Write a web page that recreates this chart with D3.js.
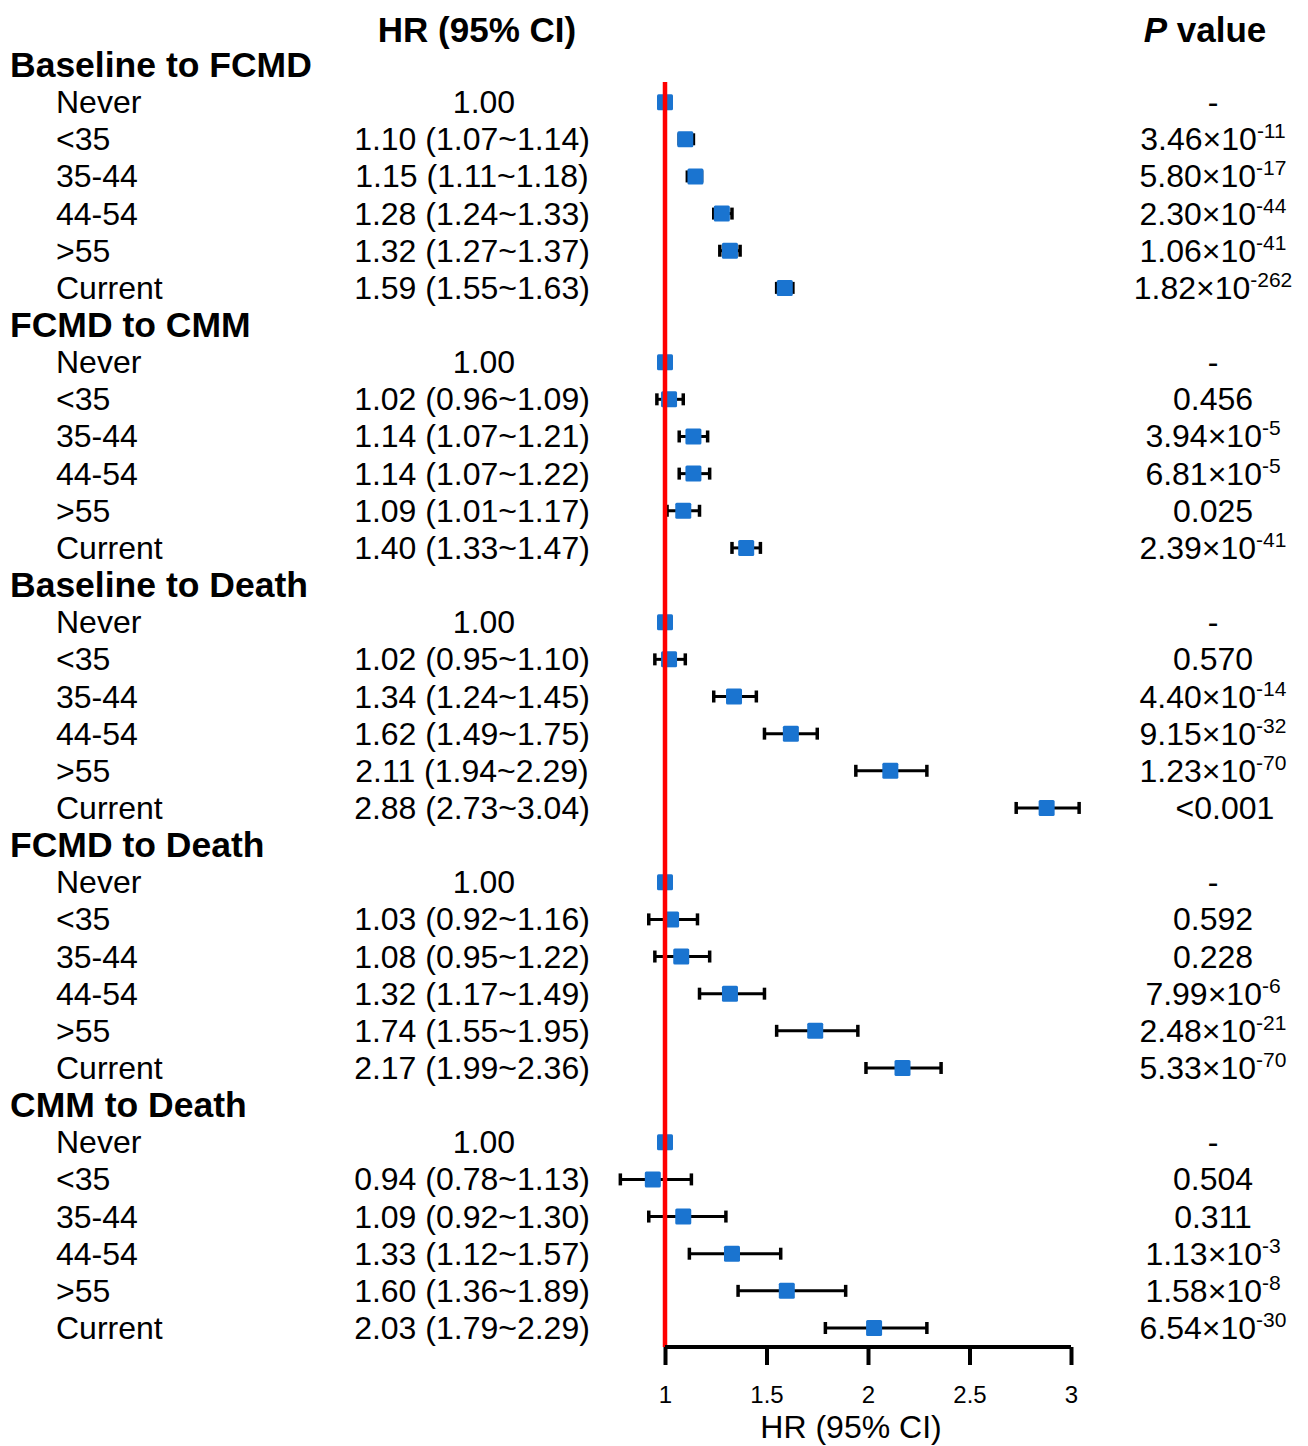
<!DOCTYPE html>
<html>
<head>
<meta charset="utf-8">
<script src="https://cdn.jsdelivr.net/npm/d3@7"></script>
<style>
  body { margin: 0; background: #fff; }
  text { font-family: "Liberation Sans", Arial, sans-serif; fill: #000; }
</style>
</head>
<body>
<div id="chart"></div>
<script>
// data
var groups = ["Baseline to FCMD", "FCMD to CMM", "Baseline to Death", "FCMD to Death", "CMM to Death"];
var categories = ["Never", "<35", "35-44", "44-54", ">55", "Current"];

var hr = [
  [1.00, 1.10, 1.15, 1.28, 1.32, 1.59],
  [1.00, 1.02, 1.14, 1.14, 1.09, 1.40],
  [1.00, 1.02, 1.34, 1.62, 2.11, 2.88],
  [1.00, 1.03, 1.08, 1.32, 1.74, 2.17],
  [1.00, 0.94, 1.09, 1.33, 1.60, 2.03]
];
var lower = [
  [null, 1.07, 1.11, 1.24, 1.27, 1.55],
  [null, 0.96, 1.07, 1.07, 1.01, 1.33],
  [null, 0.95, 1.24, 1.49, 1.94, 2.73],
  [null, 0.92, 0.95, 1.17, 1.55, 1.99],
  [null, 0.78, 0.92, 1.12, 1.36, 1.79]
];
var upper = [
  [null, 1.14, 1.18, 1.33, 1.37, 1.63],
  [null, 1.09, 1.21, 1.22, 1.17, 1.47],
  [null, 1.10, 1.45, 1.75, 2.29, 3.04],
  [null, 1.16, 1.22, 1.49, 1.95, 2.36],
  [null, 1.13, 1.30, 1.57, 1.89, 2.29]
];
var pvals = [
  ["-", "3.46×10^-11", "5.80×10^-17", "2.30×10^-44", "1.06×10^-41", "1.82×10^-262"],
  ["-", "0.456", "3.94×10^-5", "6.81×10^-5", "0.025", "2.39×10^-41"],
  ["-", "0.570", "4.40×10^-14", "9.15×10^-32", "1.23×10^-70", "<0.001"],
  ["-", "0.592", "0.228", "7.99×10^-6", "2.48×10^-21", "5.33×10^-70"],
  ["-", "0.504", "0.311", "1.13×10^-3", "1.58×10^-8", "6.54×10^-30"]
];
var xTicks = [1, 1.5, 2, 2.5, 3];

var width = 1308, height = 1446;
var blue = "#1a74d0";

// flatten into rows: a header row then one row per category
var rows = [];
groups.forEach(function (g, gi) {
  rows.push({ type: "group", label: g });
  categories.forEach(function (c, ci) {
    rows.push({
      type: "item", label: c,
      hr: hr[gi][ci], lo: lower[gi][ci], hi: upper[gi][ci], p: pvals[gi][ci]
    });
  });
});

var svg = d3.select("#chart").append("svg")
  .attr("width", width)
  .attr("height", height);

// scales
var x = d3.scaleLinear().domain([1, 3]).range([665, 1071]);
var y = d3.scaleLinear().domain([0, rows.length - 1]).range([65, 1328]);
var axisY = 1347;

// column headers
svg.append("text")
  .attr("x", 477).attr("y", 42)
  .attr("text-anchor", "middle")
  .style("font-size", "35px").style("font-weight", "bold")
  .text("HR (95% CI)");

var ph = svg.append("text")
  .attr("x", 1205).attr("y", 42)
  .attr("text-anchor", "middle")
  .style("font-size", "35px").style("font-weight", "bold");
ph.append("tspan").style("font-style", "italic").text("P");
ph.append("tspan").text(" value");

// row labels
var rowG = svg.selectAll("g.row")
  .data(rows)
  .enter().append("g")
  .attr("class", "row")
  .attr("transform", function (d, i) { return "translate(0," + y(i) + ")"; });

rowG.append("text")
  .attr("x", function (d) { return d.type === "group" ? 10 : 56; })
  .attr("y", function (d) { return d.type === "group" ? 12 : 11; })
  .style("font-size", function (d) { return d.type === "group" ? "35.5px" : "32px"; })
  .style("font-weight", function (d) { return d.type === "group" ? "bold" : "normal"; })
  .text(function (d) { return d.label; });

var items = rowG.filter(function (d) { return d.type === "item"; });

// HR (95% CI) text
items.append("text")
  .attr("x", function (d) { return d.lo == null ? 484 : 472; })
  .attr("y", 11)
  .attr("text-anchor", "middle")
  .style("font-size", "32px")
  .text(function (d) {
    if (d.lo == null) return d.hr.toFixed(2);
    return d.hr.toFixed(2) + " (" + d.lo.toFixed(2) + "~" + d.hi.toFixed(2) + ")";
  });

// P values, with superscript exponent
items.each(function (d) {
  var t = d3.select(this).append("text")
    .attr("x", d.p.charAt(0) === "<" ? 1225 : 1213).attr("y", 11)
    .attr("text-anchor", "middle")
    .style("font-size", "32px");
  var parts = d.p.split("^");
  t.append("tspan").text(parts[0]);
  if (parts.length > 1) {
    t.append("tspan")
      .attr("dy", -12)
      .style("font-size", "21px")
      .text(parts[1]);
  }
});

// reference line at HR = 1
svg.append("line")
  .attr("x1", x(1)).attr("x2", x(1))
  .attr("y1", 82).attr("y2", axisY)
  .attr("stroke", "#ff0000")
  .attr("stroke-width", 4.5);

// error bars
var ci = items.filter(function (d) { return d.lo != null; });
ci.append("line")
  .attr("x1", function (d) { return x(d.lo); })
  .attr("x2", function (d) { return x(d.hi); })
  .attr("stroke", "#000").attr("stroke-width", 3);
ci.append("line")
  .attr("x1", function (d) { return x(d.lo); })
  .attr("x2", function (d) { return x(d.lo); })
  .attr("y1", -6).attr("y2", 6)
  .attr("stroke", "#000").attr("stroke-width", 3.5);
ci.append("line")
  .attr("x1", function (d) { return x(d.hi); })
  .attr("x2", function (d) { return x(d.hi); })
  .attr("y1", -6).attr("y2", 6)
  .attr("stroke", "#000").attr("stroke-width", 3.5);

// point estimates
items.append("rect")
  .attr("x", function (d) { return x(d.hr) - 8; })
  .attr("y", -8)
  .attr("width", 16).attr("height", 16)
  .attr("rx", 1.5)
  .attr("fill", blue);

// x axis
var axis = svg.append("g")
  .attr("transform", "translate(0," + axisY + ")")
  .call(d3.axisBottom(x).tickValues(xTicks).tickSize(18).tickSizeOuter(0)
    .tickFormat(d3.format("")));
axis.select(".domain").attr("stroke", "#000").attr("stroke-width", 4)
  .attr("d", "M" + x(1) + ",0H" + x(3));
axis.selectAll(".tick line").attr("stroke", "#000").attr("stroke-width", 4);
axis.selectAll(".tick text")
  .attr("y", 56).attr("dy", 0)
  .style("font-size", "24px")
  .style("font-family", "'Liberation Sans', Arial, sans-serif")
  .attr("fill", "#000");

svg.append("text")
  .attr("x", 851).attr("y", 1438)
  .attr("text-anchor", "middle")
  .style("font-size", "32px")
  .text("HR (95% CI)");
</script>
</body>
</html>
